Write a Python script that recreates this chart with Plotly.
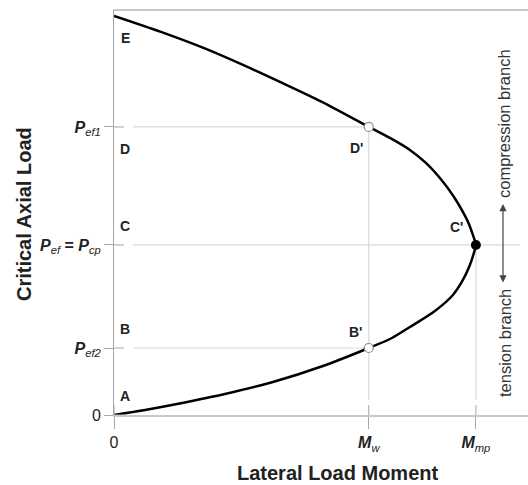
import plotly.graph_objects as go

# ---- data ----
# lateral load moment (units of M_mp) and critical axial load (units of P_cp)
curve_M = [0.0, 0.0856, 0.174, 0.3066, 0.4392, 0.5773, 0.704, 0.768, 0.8177, 0.8867, 0.9365, 0.9641,
           0.9834, 0.9945, 1.0,
           0.9917, 0.9807, 0.9641, 0.9448, 0.9116, 0.8619, 0.8177, 0.7624, 0.704, 0.5746, 0.4586,
           0.3564, 0.2541, 0.1298, 0.0]
curve_P = [0.0, 0.0294, 0.0647, 0.1235, 0.1941, 0.2882, 0.394, 0.4529, 0.5176, 0.6118, 0.7059, 0.7941,
           0.8824, 0.9529, 1.0,
           1.0588, 1.1235, 1.1941, 1.2647, 1.3647, 1.4824, 1.5588, 1.6294, 1.694, 1.8412, 1.9588,
           2.0588, 2.1529, 2.2529, 2.347]

M_w = 0.704
M_mp = 1.0
P_ef2 = 0.394
P_cp = 1.0
P_ef1 = 1.694
P_top = 2.347

x_tickvals = [0, M_w, M_mp]
x_ticktext = ["0", "<b><i>M</i></b><sub><i>w</i></sub>", "<b><i>M</i></b><sub><i>mp</i></sub>"]
y_tickvals = [0, P_ef2, P_cp, P_ef1]
y_ticktext = ["0",
              "<b><i>P</i></b><sub><i>ef2</i></sub>",
              "<b><i>P</i></b><sub><i>ef</i></sub><b> = </b><b><i>P</i></b><sub><i>cp</i></sub>",
              "<b><i>P</i></b><sub><i>ef1</i></sub>"]

level_letters = ["A", "B", "C", "D", "E"]
level_P = [0.0, P_ef2, P_cp, P_ef1, P_top]
point_labels = ["B'", "C'", "D'"]
point_M = [M_w, M_mp, M_w]
point_P = [P_ef2, P_cp, P_ef1]

x_title = "Lateral Load Moment"
y_title = "Critical Axial Load"
comp_text = "compression branch"
tens_text = "tension branch"

# ---- figure ----
W, H = 528, 485
L, R, T, B = 114, 0, 11, 70
X_RANGE = [0, 1.144]
Y_RANGE = [0, 2.376]
pw, ph = W - L - R, H - T - B
FONT = "Liberation Sans, Arial, sans-serif"
GRID = "#d9d9d9"
AXIS = "#a6a6a6"

fig = go.Figure()

# projection / grid lines
shapes = []
for Mv, Pv in zip(point_M, point_P):
    x_end = Mv if Pv != P_cp else X_RANGE[0] + (X_RANGE[1] - X_RANGE[0]) * (406 / pw)
    shapes.append(dict(type="line", xref="x", yref="y",
                       x0=X_RANGE[1] * 19 / pw, x1=x_end, y0=Pv, y1=Pv,
                       line=dict(color=GRID, width=1.2), layer="below"))
for Mv, Pv in [(M_w, P_ef1), (M_mp, P_cp)]:
    shapes.append(dict(type="line", xref="x", yref="y",
                       x0=Mv, x1=Mv, y0=Y_RANGE[1] * 15 / ph, y1=Pv,
                       line=dict(color=GRID, width=1.2), layer="below"))
# crossing tick marks (inner part)
for v in x_tickvals:
    shapes.append(dict(type="line", xref="x", yref="paper", x0=v, x1=v,
                       y0=0, y1=10 / ph, line=dict(color=AXIS, width=1)))
for v in y_tickvals:
    shapes.append(dict(type="line", xref="paper", yref="y", x0=0, x1=10 / pw,
                       y0=v, y1=v, line=dict(color=AXIS, width=1)))

fig.add_trace(go.Scatter(x=curve_M, y=curve_P, mode="lines",
                         line=dict(color="black", width=2.5, shape="spline", smoothing=0.8),
                         hoverinfo="skip", showlegend=False, cliponaxis=False))
fig.add_trace(go.Scatter(x=[M_w, M_w], y=[P_ef2, P_ef1], mode="markers",
                         marker=dict(size=9, color="white", line=dict(color="#8c8c8c", width=1.2)),
                         showlegend=False))
fig.add_trace(go.Scatter(x=[M_mp], y=[P_cp], mode="markers",
                         marker=dict(size=10, color="black"), showlegend=False))

LBL = dict(family=FONT, size=14, color="#222")
ann = []
# level letters A-E
for lab, Pv in zip(level_letters, level_P):
    shift = -22 if Pv > P_cp else 19
    ann.append(dict(x=0, y=Pv, xref="x", yref="y", text="<b>" + lab + "</b>", showarrow=False,
                    xshift=11, yshift=shift, font=LBL, xanchor="center", yanchor="middle"))
for lab, Mv, Pv in zip(point_labels, point_M, point_P):
    if lab == "D'":
        xs, ys = -12, -21
    elif lab == "C'":
        xs, ys = -19, 18
    else:
        xs, ys = -13, 16
    ann.append(dict(x=Mv, y=Pv, xref="x", yref="y", text="<b>" + lab + "</b>", showarrow=False,
                    xshift=xs, yshift=ys, font=LBL, xanchor="center", yanchor="middle"))
# axis titles
ann.append(dict(x=(24 - L) / pw, y=(T + ph - 214) / ph, xref="paper", yref="paper",
                text="<b>" + y_title + "</b>", textangle=-90, showarrow=False,
                font=dict(family=FONT, size=20, color="#222"), xanchor="center", yanchor="middle"))
ann.append(dict(x=(337 - L) / pw, y=(T + ph - 473) / ph, xref="paper", yref="paper",
                text="<b>" + x_title + "</b>", showarrow=False,
                font=dict(family=FONT, size=20, color="#222"), xanchor="center", yanchor="middle"))
# branch labels
ann.append(dict(x=(504 - L) / pw, y=(T + ph - 124) / ph, xref="paper", yref="paper", text=comp_text,
                textangle=-90, showarrow=False, font=dict(family=FONT, size=16.5, color="#333"),
                xanchor="center", yanchor="middle"))
ann.append(dict(x=(505 - L) / pw, y=(T + ph - 343) / ph, xref="paper", yref="paper", text=tens_text,
                textangle=-90, showarrow=False, font=dict(family=FONT, size=16.5, color="#333"),
                xanchor="center", yanchor="middle"))
# double arrow
ann.append(dict(x=(503 - L) / pw, y=(T + ph - 204) / ph, xref="paper", yref="paper",
                ax=0, ay=80, text="", showarrow=True, arrowhead=2, startarrowhead=2,
                arrowside="end+start", arrowsize=1.2, arrowwidth=1.2, arrowcolor="#444"))

fig.update_layout(
    width=W, height=H, margin=dict(l=L, r=R, t=T, b=B),
    plot_bgcolor="white", paper_bgcolor="white",
    shapes=shapes, annotations=ann,
    xaxis=dict(range=X_RANGE, tickvals=x_tickvals, ticktext=x_ticktext,
               showgrid=False, zeroline=False, showline=True, linecolor="#c8c8c8", linewidth=2,
               mirror=True, ticks="outside", ticklen=12, tickcolor=AXIS, tickwidth=1,
               tickfont=dict(family=FONT, size=16, color="#222")),
    yaxis=dict(range=Y_RANGE, tickvals=y_tickvals, ticktext=y_ticktext,
               showgrid=False, zeroline=False, showline=True, linecolor=AXIS, linewidth=1,
               ticks="outside", ticklen=9, tickcolor=AXIS, tickwidth=1,
               tickfont=dict(family=FONT, size=16, color="#222")),
)

fig.write_html("out.html")
